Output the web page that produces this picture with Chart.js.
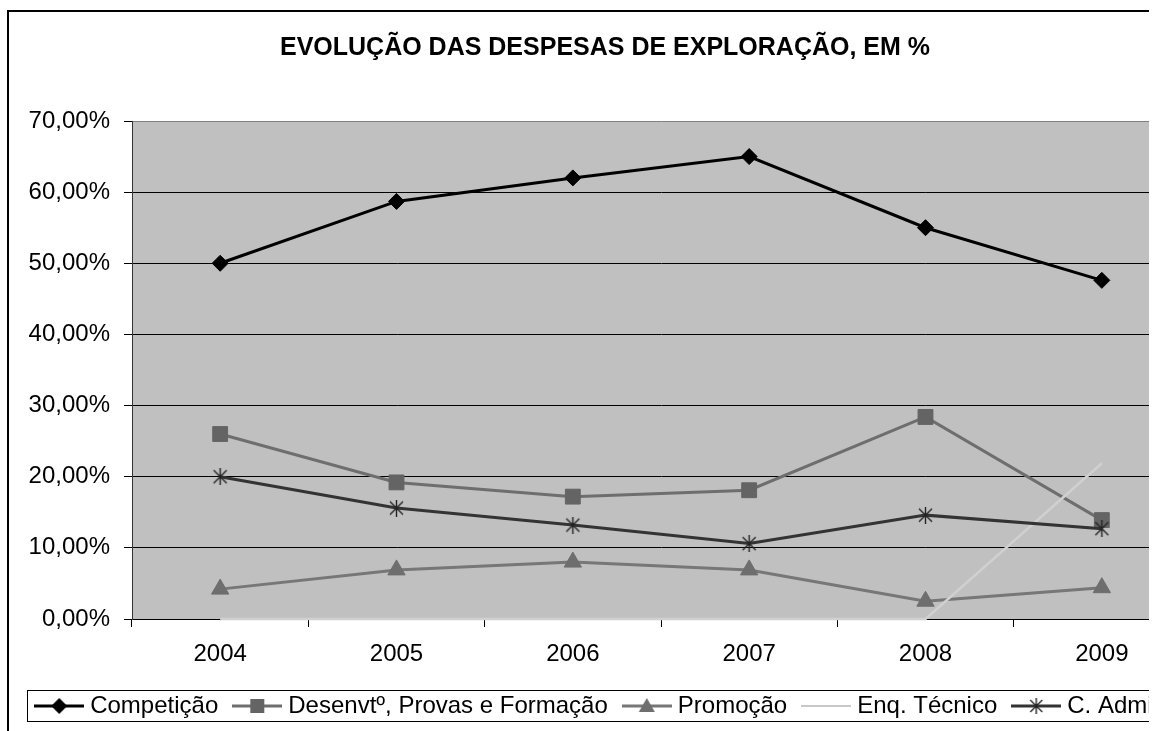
<!DOCTYPE html>
<html lang="pt">
<head>
<meta charset="UTF-8">
<title>Evolução das despesas de exploração</title>
<script src="https://cdn.jsdelivr.net/npm/chart.js"></script>
<style>
  html, body { margin: 0; padding: 0; background: #fff; overflow: hidden; }
  #clip { position: absolute; left: 0; top: 0; width: 1149px; height: 731px; overflow: hidden; }
  #chart { position: absolute; left: -60px; top: 0; }
  #frame { position: absolute; left: 7px; top: 10px; width: 2000px; height: 2000px;
           border-left: 2px solid #000; border-top: 2px solid #000; pointer-events: none; }
</style>
</head>
<body>
<div id="clip">
  <canvas id="chart" width="1330" height="731"></canvas>
  <div id="frame"></div>
</div>

<script>
  // dados (% das despesas)
  const years = ['2004', '2005', '2006', '2007', '2008', '2009'];
  const competicao = [50.0, 58.7, 62.0, 65.0, 55.0, 47.6];
  const desenvolvimento = [26.0, 19.2, 17.2, 18.1, 28.4, 13.9];
  const promocao = [4.2, 6.9, 8.0, 6.9, 2.5, 4.4];
  const enqTecnico = [0, 0, 0, 0, 0, 21.9];
  const cAdmin = [20.0, 15.6, 13.2, 10.6, 14.6, 12.7];
  const seriesNames = ['Competição', 'Desenvtº, Provas e Formação', 'Promoção', 'Enq. Técnico', 'C. Administração'];
  const yTicks = [0, 10, 20, 30, 40, 50, 60, 70];

  Chart.defaults.font.family = "'Liberation Sans', Arial, sans-serif";
  Chart.defaults.color = '#000';

  // marcador em estrela (X + traço vertical), como no Excel
  function starMarker(size, color) {
    const c = document.createElement('canvas');
    c.width = size; c.height = size;
    const g = c.getContext('2d');
    g.strokeStyle = color;
    g.lineWidth = 1.4;
    g.beginPath();
    g.moveTo(size / 2, 0); g.lineTo(size / 2, size);
    g.moveTo(2, 2); g.lineTo(size - 2, size - 2);
    g.moveTo(size - 2, 2); g.lineTo(2, size - 2);
    g.stroke();
    return c;
  }

  // amostra da legenda: linha com o marcador ao centro
  function legendSample(color, lineW, marker, markerColor) {
    const c = document.createElement('canvas');
    c.width = 50; c.height = 24;
    const g = c.getContext('2d');
    g.strokeStyle = color;
    g.lineWidth = lineW;
    g.beginPath(); g.moveTo(0, 12); g.lineTo(50, 12); g.stroke();
    g.fillStyle = markerColor;
    g.beginPath();
    if (marker === 'diamond') {
      g.moveTo(25, 4); g.lineTo(33, 12); g.lineTo(25, 20); g.lineTo(17, 12);
      g.fill();
    } else if (marker === 'square') {
      g.rect(18, 5, 14, 14); g.fill();
    } else if (marker === 'triangle') {
      g.moveTo(25, 4); g.lineTo(33, 18); g.lineTo(17, 18); g.fill();
    } else if (marker === 'star') {
      g.drawImage(starMarker(16, markerColor), 17, 4);
    }
    return c;
  }

  const adminStar = starMarker(17, '#222');
  const samples = [
    legendSample('#000', 3, 'diamond', '#000'),
    legendSample('#6e6e6e', 3, 'square', '#646464'),
    legendSample('#777', 3, 'triangle', '#6e6e6e'),
    legendSample('#c8c8c8', 2, null, null),
    legendSample('#333', 3, 'star', '#222')
  ];

  const plotBackground = {
    id: 'plotBackground',
    beforeDraw(chart) {
      const a = chart.chartArea, ctx = chart.ctx;
      ctx.save();
      ctx.fillStyle = '#c0c0c0';
      ctx.fillRect(a.left, a.top, a.right - a.left, a.bottom - a.top);
      ctx.restore();
    }
  };

  const legendFrame = {
    id: 'legendFrame',
    afterDraw(chart) {
      const hb = chart.legend.legendHitBoxes[0];
      if (!hb) return;
      const ctx = chart.ctx;
      const mid = hb.top + hb.height / 2;
      ctx.save();
      ctx.strokeStyle = '#000';
      ctx.lineWidth = 1;
      ctx.strokeRect(Math.round(hb.left - 13) + 0.5, Math.round(mid - 16) + 0.5, 2000, 31);
      ctx.restore();
    }
  };

  new Chart(document.getElementById('chart'), {
    type: 'line',
    data: {
      labels: years,
      datasets: [
        { label: seriesNames[0], data: competicao, order: 4, borderColor: '#000', borderWidth: 3,
          pointStyle: 'rectRot', pointRadius: 8, pointBackgroundColor: '#000', pointBorderColor: '#000', pointBorderWidth: 1 },
        { label: seriesNames[1], data: desenvolvimento, order: 3, borderColor: '#6e6e6e', borderWidth: 3,
          pointStyle: 'rect', pointRadius: 10.5, pointBackgroundColor: '#646464', pointBorderColor: '#646464', pointBorderWidth: 1 },
        { label: seriesNames[2], data: promocao, order: 2, borderColor: '#777', borderWidth: 3,
          pointStyle: 'triangle', pointRadius: 10, pointBackgroundColor: '#6e6e6e', pointBorderColor: '#6e6e6e', pointBorderWidth: 1 },
        { label: seriesNames[3], data: enqTecnico, order: 1, borderColor: '#d0d0d0', borderWidth: 2.5,
          pointRadius: 0 },
        { label: seriesNames[4], data: cAdmin, order: 0, borderColor: '#333', borderWidth: 3,
          pointStyle: adminStar, pointRadius: 8 }
      ]
    },
    options: {
      responsive: false,
      animation: false,
      clip: false,
      layout: { padding: { left: 0, right: 0, top: 0, bottom: 3 } },
      plugins: {
        title: {
          display: true,
          text: 'EVOLUÇÃO DAS DESPESAS DE EXPLORAÇÃO, EM %',
          color: '#000',
          font: { size: 25, weight: 'bold' },
          padding: { top: 33, bottom: 58 }
        },
        legend: {
          position: 'bottom',
          align: 'end',
          labels: {
            usePointStyle: true,
            pointStyleWidth: 38,
            padding: 20,
            color: '#000',
            font: { size: 24 },
            generateLabels: chart => chart.data.datasets.map((ds, i) => ({
              text: ds.label,
              pointStyle: samples[i],
              fillStyle: ds.borderColor,
              strokeStyle: ds.borderColor,
              lineWidth: 0,
              hidden: false,
              fontColor: '#000',
              datasetIndex: i
            }))
          }
        },
        tooltip: { enabled: false }
      },
      scales: {
        x: {
          offset: true,
          grid: { offset: true, drawOnChartArea: false, drawTicks: true, tickLength: 8, color: '#000' },
          border: { color: '#000', width: 1 },
          ticks: { color: '#000', font: { size: 24 }, padding: 13, maxRotation: 0 },
          afterFit: s => { s.height = 55; }
        },
        y: {
          min: 0,
          max: 70,
          afterBuildTicks: s => { s.ticks = yTicks.map(v => ({ value: v })); },
          grid: {
            color: c => (c.tick && c.tick.value === 70 ? '#808080' : '#000'),
            tickColor: '#000',
            tickLength: 8,
            lineWidth: 1
          },
          border: { color: '#333', width: 1 },
          ticks: {
            color: '#000',
            font: { size: 24 },
            padding: 14,
            callback: v => v.toFixed(2).replace('.', ',') + '%'
          },
          afterFit: s => { s.width = 192; }
        },
        yR: {
          position: 'right',
          display: true,
          grid: { display: false, drawTicks: false },
          border: { display: false },
          ticks: { display: false },
          afterFit: s => { s.width = 80; }
        }
      }
    },
    plugins: [plotBackground, legendFrame]
  });
</script>
</body>
</html>
